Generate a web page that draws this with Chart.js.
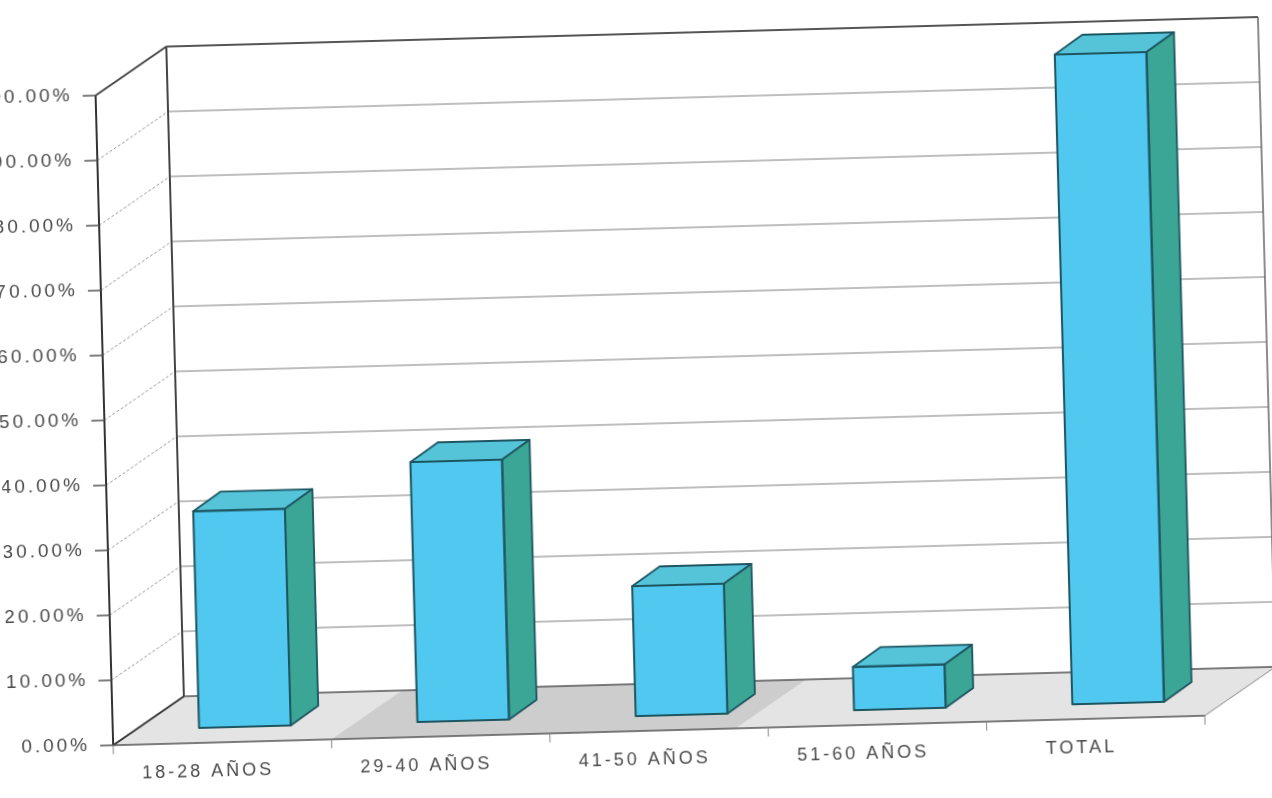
<!DOCTYPE html>
<html>
<head>
<meta charset="utf-8">
<script src="https://cdn.jsdelivr.net/npm/chart.js@4/dist/chart.umd.min.js"></script>
<style>
  html, body { margin: 0; padding: 0; background: #ffffff; overflow: hidden; }
  #wrap { position: absolute; left: 0; top: 0; width: 1272px; height: 798px;
          transform: rotate(-1.55deg); transform-origin: 636px 399px; }
  canvas { display: block; }
</style>
</head>
<body>
<div id="wrap"><canvas id="c" width="1272" height="798"></canvas></div>
<script>
// ---- data ----
const categories = ['18-28 AÑOS', '29-40 AÑOS', '41-50 AÑOS', '51-60 AÑOS', 'TOTAL'];
const percentages = [33.33, 40.00, 20.00, 6.67, 100.00];
const yTickMin = 0;
const yTickMax = 100;
const yTickStep = 10;

// ---- style ----
const TEXT = '#4a4a4a';
const FRONT = { dx: -23, dy: 15 };   // front plane offset from bar plane
const BACK  = { dx: 49,  dy: -32 };  // back wall offset from bar plane
const BARD  = { dx: 28,  dy: -19 };  // bar depth
const FACE = '#50c8ef', TOP = '#55c3d8', SIDE = '#3ba596', EDGE = '#1d5560';

function poly(ctx, pts, fill, stroke, lw) {
  ctx.beginPath();
  ctx.moveTo(pts[0][0], pts[0][1]);
  for (let i = 1; i < pts.length; i++) ctx.lineTo(pts[i][0], pts[i][1]);
  ctx.closePath();
  if (fill) { ctx.fillStyle = fill; ctx.fill(); }
  if (stroke) { ctx.strokeStyle = stroke; ctx.lineWidth = lw || 1; ctx.stroke(); }
}
function line(ctx, x1, y1, x2, y2, color, lw, dash) {
  ctx.beginPath();
  ctx.setLineDash(dash || []);
  ctx.moveTo(x1, y1); ctx.lineTo(x2, y2);
  ctx.strokeStyle = color; ctx.lineWidth = lw || 1; ctx.stroke();
  ctx.setLineDash([]);
}

const threeD = {
  id: 'threeD',
  beforeDraw(chart) {
    chart.ctx.letterSpacing = '3px';
  },
  beforeDatasetsDraw(chart) {
    const { ctx, chartArea: a, scales: { y } } = chart;
    const y0 = y.getPixelForValue(yTickMin), yT = y.getPixelForValue(yTickMax);
    const fL = a.left + FRONT.dx, fR = a.right + FRONT.dx;
    const bL = a.left + BACK.dx,  bR = a.right + BACK.dx;
    ctx.save();
    ctx.letterSpacing = '0px';
    // floor
    poly(ctx, [[fL, y0 + FRONT.dy], [fR, y0 + FRONT.dy], [bR, y0 + BACK.dy], [bL, y0 + BACK.dy]], '#e4e4e4');
    // darker band on floor (scan shading)
    const cw = (fR - fL) / categories.length;
    const s1 = 1.0, s2 = 2.85;
    poly(ctx, [[fL + cw * s1, y0 + FRONT.dy], [fL + cw * s2, y0 + FRONT.dy],
               [fL + cw * s2 + (BACK.dx - FRONT.dx), y0 + BACK.dy], [fL + cw * s1 + (BACK.dx - FRONT.dx), y0 + BACK.dy]], '#cdcdcd');
    // gridlines
    for (let v = yTickMin + yTickStep; v <= yTickMax; v += yTickStep) {
      const py = y.getPixelForValue(v);
      if (v < yTickMax) line(ctx, bL, py + BACK.dy, bR, py + BACK.dy, '#7e7e7e', 1);
      line(ctx, fL, py + FRONT.dy, bL, py + BACK.dy, '#9a9a9a', 1, [3, 2]);
    }
    // back wall outline
    line(ctx, bL, yT + BACK.dy, bR, yT + BACK.dy, '#555', 2);
    line(ctx, bR, yT + BACK.dy, bR, y0 + BACK.dy, '#666', 1.5);
    line(ctx, bL, yT + BACK.dy, bL, y0 + BACK.dy, '#444', 2);
    // side wall top edge + front axis
    line(ctx, fL, yT + FRONT.dy, bL, yT + BACK.dy, '#444', 2);
    line(ctx, fL, yT + FRONT.dy, fL, y0 + FRONT.dy, '#333', 2);
    // y tick marks
    for (let v = yTickMin; v <= yTickMax; v += yTickStep) {
      const py = y.getPixelForValue(v) + FRONT.dy;
      line(ctx, fL - 13, py, fL, py, '#555', 1.5);
    }
    // floor edges
    line(ctx, bL, y0 + BACK.dy, bR, y0 + BACK.dy, '#555', 1.5);
    line(ctx, fL, y0 + FRONT.dy, bL, y0 + BACK.dy, '#333', 2);
    line(ctx, fR, y0 + FRONT.dy, bR, y0 + BACK.dy, '#888', 1);
    line(ctx, fL, y0 + FRONT.dy, fR, y0 + FRONT.dy, '#555', 1.5);
    // x tick marks
    for (let k = 0; k <= categories.length; k++) {
      const xk = fL + k * cw;
      line(ctx, xk, y0 + FRONT.dy, xk, y0 + FRONT.dy + 9, '#888', 1);
    }
    ctx.restore();
  },
  afterDatasetsDraw(chart) {
    const { ctx } = chart;
    const meta = chart.getDatasetMeta(0);
    ctx.save();
    ctx.lineJoin = 'round';
    meta.data.forEach(bar => {
      const { x, y, base, width } = bar.getProps(['x', 'y', 'base', 'width'], true);
      const l = x - width / 2, r = x + width / 2;
      poly(ctx, [[l, y], [l + BARD.dx, y + BARD.dy], [r + BARD.dx, y + BARD.dy], [r, y]], TOP, EDGE, 1.8);
      poly(ctx, [[r, y], [r + BARD.dx, y + BARD.dy], [r + BARD.dx, base + BARD.dy], [r, base]], SIDE, EDGE, 1.8);
      ctx.strokeStyle = EDGE; ctx.lineWidth = 2;
      ctx.strokeRect(l, y, width, base - y);
    });
    ctx.restore();
  }
};

const xFont = { family: '"Liberation Sans", Arial, sans-serif', size: 18 };
const yFont = { family: '"Liberation Sans", Arial, sans-serif', size: 19 };

new Chart(document.getElementById('c'), {
  type: 'bar',
  data: {
    labels: categories,
    datasets: [{
      data: percentages,
      backgroundColor: FACE,
      borderColor: EDGE,
      borderWidth: 0,
      categoryPercentage: 1.0,
      barPercentage: 0.42
    }]
  },
  options: {
    responsive: false,
    animation: false,
    layout: { padding: { top: 66, right: 53, left: 0, bottom: 0 } },
    plugins: { legend: { display: false }, tooltip: { enabled: false } },
    scales: {
      x: {
        grid: { display: false, drawTicks: false },
        border: { display: false },
        ticks: { color: TEXT, font: xFont, padding: 33, labelOffset: -38, maxRotation: 0, autoSkip: false },
        afterFit(s) { s.height = 82; }
      },
      y: {
        min: yTickMin, max: yTickMax,
        grid: { display: false, drawTicks: false },
        border: { display: false },
        ticks: { stepSize: yTickStep, color: TEXT, font: yFont, padding: 46, labelOffset: 15,
                 callback: v => v.toFixed(2) + '%' },
        afterFit(s) { s.width = 127; }
      }
    }
  },
  plugins: [threeD]
});
</script>
</body>
</html>
